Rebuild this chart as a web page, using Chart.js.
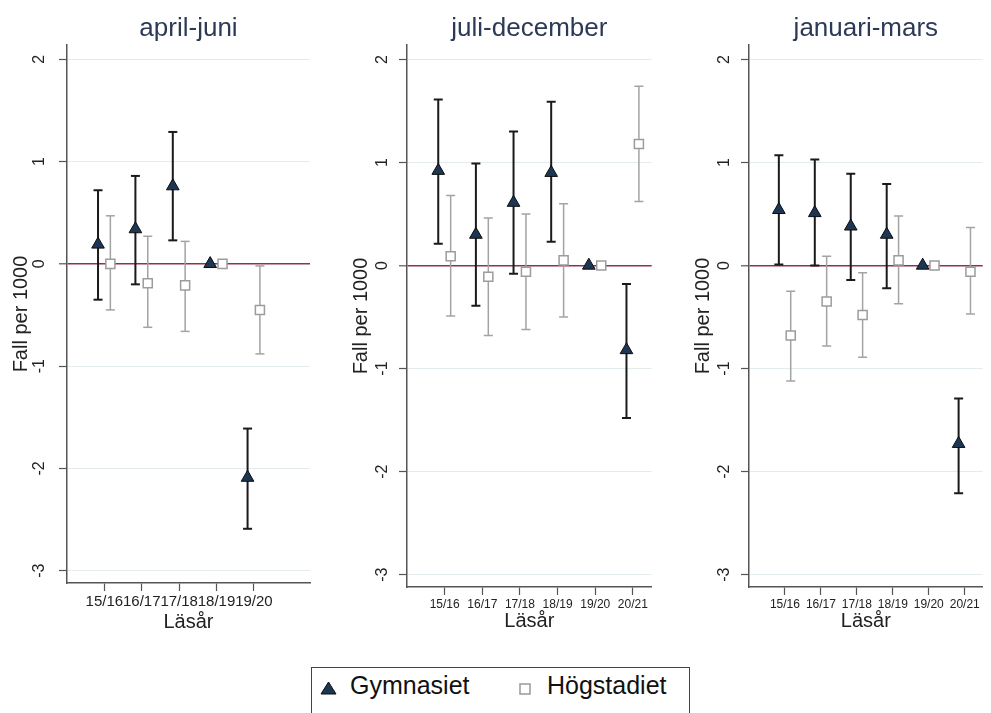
<!DOCTYPE html>
<html>
<head>
<meta charset="utf-8">
<script src="https://cdn.jsdelivr.net/npm/chart.js@4.4.1/dist/chart.umd.min.js"></script>
<style>
  body { margin: 0; background: #fff; width: 991px; height: 713px; overflow: hidden; position: relative;
         font-family: "Liberation Sans", Arial, sans-serif; }
  canvas { position: absolute; top: 0; }
  #legend { position: absolute; left: 311px; top: 667px; width: 379px; height: 60px;
            border: 1.5px solid #444; box-sizing: border-box; }
  #legend span { position: absolute; top: 2px; font-size: 25px; line-height: 30px; color: #111; }
  #legend svg { position: absolute; }
</style>
</head>
<body>
<canvas id="p1" width="330" height="640" style="left:0"></canvas>
<canvas id="p2" width="330" height="640" style="left:330px"></canvas>
<canvas id="p3" width="331" height="640" style="left:660px"></canvas>

<div id="legend">
  <svg width="17" height="14" style="left:8px;top:13px"><polygon points="8.5,1 16,13 1,13" fill="#1c3654" stroke="#0d0d0d" stroke-width="1"/></svg>
  <span style="left:38px">Gymnasiet</span>
  <svg width="12" height="12" style="left:207px;top:15px"><rect x="1" y="1" width="10" height="10" fill="#fff" stroke="#999" stroke-width="1.5"/></svg>
  <span style="left:235px">Högstadiet</span>
</div>

<script>
// school years per panel
const yearsApr = ['15/16', '16/17', '17/18', '18/19', '19/20'];
const yearsJul = ['15/16', '16/17', '17/18', '18/19', '19/20', '20/21'];
const yearsJan = ['15/16', '16/17', '17/18', '18/19', '19/20', '20/21'];
const yTicks = [-3, -2, -1, 0, 1, 2];

// april-juni
const aprGymEst = [0.19, 0.34, 0.76, 0, -2.09];
const aprGymLo  = [-0.35, -0.20, 0.23, null, -2.59];
const aprGymHi  = [0.72, 0.86, 1.29, null, -1.61];
const aprHogEst = [0.00, -0.19, -0.21, 0, -0.45];
const aprHogLo  = [-0.45, -0.62, -0.66, null, -0.88];
const aprHogHi  = [0.47, 0.27, 0.22, null, -0.02];

// juli-december
const julGymEst = [0.92, 0.30, 0.61, 0.90, 0, -0.82];
const julGymLo  = [0.21, -0.39, -0.08, 0.23, null, -1.48];
const julGymHi  = [1.61, 0.99, 1.30, 1.59, null, -0.18];
const julHogEst = [0.09, -0.11, -0.06, 0.05, 0, 1.18];
const julHogLo  = [-0.49, -0.68, -0.62, -0.50, null, 0.62];
const julHogHi  = [0.68, 0.46, 0.50, 0.60, null, 1.74];

// januari-mars
const janGymEst = [0.54, 0.51, 0.38, 0.30, 0, -1.73];
const janGymLo  = [0.01, 0.00, -0.14, -0.22, null, -2.21];
const janGymHi  = [1.07, 1.03, 0.89, 0.79, null, -1.29];
const janHogEst = [-0.68, -0.35, -0.48, 0.05, 0, -0.06];
const janHogLo  = [-1.12, -0.78, -0.89, -0.37, null, -0.47];
const janHogHi  = [-0.25, 0.09, -0.07, 0.48, null, 0.37];

const GYM_DX = -0.17, HOG_DX = 0.16;
const DARK = '#1a1a1a', GREY = '#a3a3a3';

Chart.defaults.font.family = '"Liberation Sans", Arial, sans-serif';
Chart.defaults.color = '#222';

const marks = (est, dx) => est.map((v, i) => ({ x: i + 1 + dx, y: v }));

function ciLine(lo, hi, dx) {
  const pts = [];
  lo.forEach((v, i) => {
    if (v == null) return;
    pts.push({ x: i + 1 + dx, y: v }, { x: i + 1 + dx, y: hi[i] }, { x: i + 1 + dx, y: null });
  });
  return pts;
}

function caps(lo, hi, dx) {
  const pts = [];
  lo.forEach((v, i) => {
    if (v == null) return;
    pts.push({ x: i + 1 + dx, y: v }, { x: i + 1 + dx, y: hi[i] });
  });
  return pts;
}

function makePanel(id, title, years, gEst, gLo, gHi, hEst, hLo, hHi, lay) {
  new Chart(document.getElementById(id), {
    type: 'scatter',
    data: {
      datasets: [
        { label: 'Gymnasiet', data: marks(gEst, GYM_DX), pointStyle: 'triangle', pointRadius: 7.3,
          backgroundColor: '#1c3654', borderColor: '#0d0d0d', borderWidth: 1 },
        { label: 'Högstadiet', data: marks(hEst, HOG_DX), pointStyle: 'rect', pointRadius: 6.4,
          backgroundColor: '#fff', borderColor: '#9c9c9c', borderWidth: 1.5 },
        { data: caps(gLo, gHi, GYM_DX), pointStyle: 'line', pointRadius: 4.5, borderColor: DARK, borderWidth: 2 },
        { data: ciLine(gLo, gHi, GYM_DX), showLine: true, spanGaps: false, pointRadius: 0,
          borderColor: DARK, borderWidth: 2 },
        { data: caps(hLo, hHi, HOG_DX), pointStyle: 'line', pointRadius: 4.5, borderColor: GREY, borderWidth: 1.5 },
        { data: ciLine(hLo, hHi, HOG_DX), showLine: true, spanGaps: false, pointRadius: 0,
          borderColor: GREY, borderWidth: 1.5 }
      ]
    },
    options: {
      responsive: false,
      animation: false,
      events: [],
      layout: { padding: { top: 0, right: lay.pr, bottom: 0, left: 0 } },
      plugins: {
        legend: { display: false },
        tooltip: { enabled: false },
        title: { display: true, text: title, fullSize: false, color: '#2c3a57',
                 font: { size: 26, weight: 'normal' }, padding: { top: 13.4, bottom: 0.4 } }
      },
      scales: {
        x: {
          type: 'linear', min: 0, max: 6.5,
          afterBuildTicks: s => { s.ticks = years.map((_, i) => ({ value: i + 1 })); },
          afterFit: s => { s.height = lay.xh; },
          ticks: { callback: v => years[Math.round(v) - 1], autoSkip: false, maxRotation: 0,
                   font: { size: lay.xfs }, color: '#222', padding: 2 },
          grid: { drawOnChartArea: false, tickLength: 8, tickColor: '#555', tickWidth: 1.2 },
          border: { color: '#555', width: 1.5 },
          title: { display: true, text: 'Läsår', font: { size: 20 }, color: '#222',
                   padding: { top: 0, bottom: lay.xtp } }
        },
        y: {
          type: 'linear', min: -3.12, max: 2.14,
          afterBuildTicks: s => { s.ticks = yTicks.map(v => ({ value: v })); },
          afterFit: s => { s.width = lay.yw; },
          ticks: { minRotation: 90, maxRotation: 90, crossAlign: 'center', padding: lay.ytp,
                   font: { size: 16 }, color: '#222' },
          grid: {
            color: c => (c.tick && c.tick.value === 0 ? '#93304c' : '#e4ebef'),
            lineWidth: c => (c.tick && c.tick.value === 0 ? 1.6 : 1),
            tickLength: 8, tickColor: '#555', tickWidth: 1.2
          },
          border: { color: '#555', width: 1.5 },
          title: { display: true, text: 'Fall per 1000', font: { size: 20 }, color: '#222',
                   padding: { top: lay.yw - 58, bottom: 0 } }
        }
      }
    }
  });
}

makePanel('p1', 'april-juni', yearsApr, aprGymEst, aprGymLo, aprGymHi, aprHogEst, aprHogLo, aprHogHi,
          { pr: 20, yw: 67, xh: 57, xfs: 15, ytp: 12, xtp: 6 });
makePanel('p2', 'juli-december', yearsJul, julGymEst, julGymLo, julGymHi, julHogEst, julHogLo, julHogHi,
          { pr: 8, yw: 77, xh: 53, xfs: 12, ytp: 9, xtp: 7 });
makePanel('p3', 'januari-mars', yearsJan, janGymEst, janGymLo, janGymHi, janHogEst, janHogLo, janHogHi,
          { pr: 0, yw: 89, xh: 53, xfs: 12, ytp: 9, xtp: 7 });
</script>
</body>
</html>
